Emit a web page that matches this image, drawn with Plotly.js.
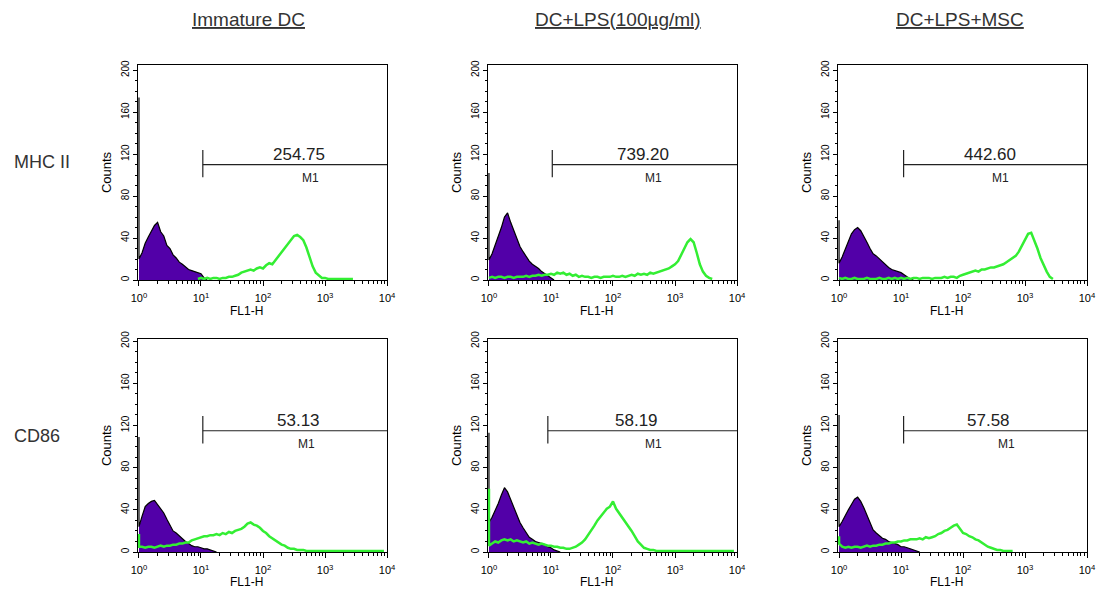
<!DOCTYPE html>
<html>
<head>
<meta charset="utf-8">
<script src="https://cdn.plot.ly/plotly-3.0.1.min.js"></script>
<style>html,body{margin:0;padding:0;background:#fff;}#chart{width:1103px;height:596px;}</style>
</head>
<body>
<div id="chart"></div>
<script>
// ---------- DATA ----------
const COLUMN_TITLES = ['Immature DC', 'DC+LPS(100\u00b5g/ml)', 'DC+LPS+MSC'];
const ROW_LABELS = ['MHC II', 'CD86'];
const X_TICK_VALUES = [1, 10, 100, 1000, 10000];
const X_TICK_LABELS = ['10<sup>0</sup>', '10<sup>1</sup>', '10<sup>2</sup>', '10<sup>3</sup>', '10<sup>4</sup>'];
const MARKER_VALUES = ['254.75', '739.20', '442.60', '53.13', '58.19', '57.58'];
const MARKER_NAME = 'M1';
const MARKER_START = [10.7, 10.5, 11, 10.7, 8.9, 11];   // FL1-H where M1 starts
const MARKER_LEVEL = [110, 110, 110, 115, 115, 115];    // counts level of the M1 bar

// FL1-H channel positions, log10 units
const FL1_LOG = [0, 0.05, 0.1, 0.15, 0.2, 0.25, 0.3, 0.35, 0.4, 0.45, 0.5, 0.55, 0.6, 0.65, 0.7, 0.75, 0.8, 0.85, 0.9, 0.95,
  1, 1.05, 1.1, 1.15, 1.2, 1.25, 1.3, 1.35, 1.4, 1.45, 1.5, 1.55, 1.6, 1.65, 1.7, 1.75, 1.8, 1.85, 1.9, 1.95,
  2, 2.05, 2.1, 2.15, 2.2, 2.25, 2.3, 2.35, 2.4, 2.45, 2.5, 2.55, 2.6, 2.65, 2.7, 2.75, 2.8, 2.85, 2.9, 2.95,
  3, 3.05, 3.1, 3.15, 3.2, 3.25, 3.3, 3.35, 3.4, 3.45, 3.5, 3.55, 3.6, 3.65, 3.7, 3.75, 3.8, 3.85, 3.9, 3.95, 4];

// counts piled up in the first channel (isotype / stained)
const ISOTYPE_FIRST_CHANNEL = [174, 102, 57, 109, 113, 130];
const STAINED_FIRST_CHANNEL = [null, null, null, 17, 60, 15];

// isotype control (purple) counts
const isoMHC_iDC = [20, 26, 35, 41, 46, 52, 55, 46, 42, 33, 30, 24, 21, 17, 15, 12, 10, 9, 8, 7, 6, 2, 0];
const isoMHC_LPS = [19, 25, 33, 40, 50, 60, 64, 55, 47, 39, 32, 27, 22, 18, 15, 13, 11, 8, 6, 4, 2, 0];
const isoMHC_MSC = [16, 22, 30, 38, 44, 48, 50, 47, 42, 36, 30, 25, 23, 20, 18, 14, 12, 10, 9, 8, 7, 5, 3, 1, 0];
const isoCD86_iDC = [24, 34, 43, 46, 48, 49, 45, 41, 37, 31, 25, 20, 18, 15, 12, 10, 8, 6, 5, 5, 4, 3, 3, 2, 1, 0];
const isoCD86_LPS = [28, 33, 39, 46, 54, 61, 57, 50, 43, 36, 28, 23, 18, 14, 12, 10, 9, 8, 7, 5, 4, 2, 1, 0];
const isoCD86_MSC = [24, 29, 35, 40, 45, 50, 52, 48, 42, 35, 27, 21, 18, 15, 13, 12, 10, 9, 8, 7, 5, 5, 4, 3, 2, 1, 0];

// stained sample (green) counts
const stMHC_iDC = [null, null, null, null, null, null, null, null, null, null, null, null, null, null, null, null, null, null, null,
  1, 2, 1, 2, 1, 2, 2, 1, 2, 2,
  3, 3, 4, 5, 7, 8, 9, 10, 9, 11,
  12, 11, 14, 16, 15, 19, 23, 27, 30, 35,
  39, 42, 43, 41, 38, 31, 22, 13, 7, 4,
  2, 2, 1, 1, 1, 1, 1, 1, 1, 1, 1];
const stMHC_LPS = [2, 3, 2, 3, 3, 2, 3, 3, 2, 3,
  3, 3, 4, 3, 4, 4, 5, 4, 5, 5,
  6, 5, 7, 6, 7, 5, 6, 4, 5, 3,
  4, 3, 3, 2, 3, 3, 2, 3, 3, 3,
  4, 3, 3, 4, 3, 4, 5, 4, 6, 5,
  6, 5, 7, 6, 7, 8, 9, 10, 11, 13,
  15, 18, 24, 30, 36, 39, 36, 26, 15, 8,
  4, 2, 1];
const stMHC_MSC = [2, 1, 2, 1, 1, 2, 1, 1, 1, 2,
  1, 1, 1, 2, 1, 1, 2, 1, 2, 1,
  2, 1, 2, 1, 2, 2, 1, 2, 2, 2,
  1, 2, 2, 2, 3, 2, 3, 3, 2, 4,
  5, 6, 7, 8, 9, 8, 10, 10, 11, 12,
  12, 13, 14, 15, 17, 19, 21, 23, 27, 33,
  39, 44, 45, 38, 30, 21, 14, 8, 3, 1];
const stCD86_iDC = [5, 5, 4, 5, 5, 4, 5, 6, 5, 6,
  6, 7, 7, 8, 8, 9, 9, 11, 12, 13,
  14, 15, 15, 16, 16, 17, 16, 18, 17, 19,
  18, 20, 21, 22, 24, 27, 28, 26, 25, 23,
  20, 18, 15, 13, 11, 9, 7, 6, 4, 3,
  3, 2, 2, 2, 1, 1, 1, 1, 1, 1,
  1, 1, 1, 1, 1, 1, 1, 1, 1, 1,
  1, 1, 1, 1, 1, 1, 1, 1, 1, 1];
const stCD86_LPS = [6, 8, 10, 9, 11, 12, 11, 12, 10, 11,
  10, 9, 10, 8, 9, 8, 7, 8, 7, 6,
  6, 5, 5, 4, 4, 3, 3, 4, 5, 7,
  9, 12, 16, 20, 25, 30, 34, 38, 41, 43,
  48, 41, 37, 33, 29, 25, 20, 15, 10, 7,
  4, 3, 2, 2, 1, 1, 1, 1, 1, 1,
  1, 1, 1, 1, 1, 1, 1, 1, 1, 1,
  1, 1, 1, 1, 1, 1, 1, 1, 1, 1];
const stCD86_MSC = [8, 5, 4, 5, 4, 5, 5, 4, 5, 6,
  5, 6, 6, 7, 7, 8, 8, 9, 9, 10,
  10, 11, 11, 12, 12, 12, 13, 12, 14, 13,
  14, 15, 17, 18, 20, 21, 23, 25, 26, 22,
  18, 17, 15, 14, 12, 11, 9, 7, 5, 4,
  3, 2, 2, 1, 1, 1, 1];

const ISOTYPE = [isoMHC_iDC, isoMHC_LPS, isoMHC_MSC, isoCD86_iDC, isoCD86_LPS, isoCD86_MSC];
const STAINED = [stMHC_iDC, stMHC_LPS, stMHC_MSC, stCD86_iDC, stCD86_LPS, stCD86_MSC];

// ---------- STYLE / LAYOUT ----------
const FONT = 'Liberation Sans, Arial, Helvetica, sans-serif';
const PURPLE = '#5200a8';
const GREEN = '#33ee33';
const X_DOMAINS = [[0.1251, 0.3509], [0.4424, 0.6682], [0.7598, 0.9855]];
const Y_DOMAINS = [[0.5302, 0.8909], [0.0738, 0.4312]];
const Y_RANGES = [[0, 205], [0, 202]];
const NUM_POS = [2.58, 2.49, 2.43, 2.58, 2.38, 2.41];   // log10 x of number label centre
const M1_POS = [2.76, 2.65, 2.60, 2.70, 2.65, 2.70];
const COL_TITLE_X = [248, 618, 960];
const ROW_LABEL_Y = [162, 436];

const minorVals = [];
[1, 10, 100, 1000].forEach(d => { for (let m = 2; m <= 9; m++) minorVals.push(m * d); });

const traces = [];
const layout = {
  width: 1103, height: 596,
  margin: {l: 0, r: 0, t: 0, b: 0},
  paper_bgcolor: '#fff', plot_bgcolor: '#fff',
  showlegend: false,
  font: {family: FONT, color: '#000'},
  shapes: [], annotations: []
};

for (let k = 0; k < 6; k++) {
  const row = Math.floor(k / 3), col = k % 3;
  const id = k === 0 ? '' : String(k + 1);
  const xa = 'x' + id, ya = 'y' + id;

  const iso = ISOTYPE[k];
  const isoX = [Math.pow(10, FL1_LOG[0])].concat(iso.map((_, i) => Math.pow(10, FL1_LOG[i])));
  const isoY = [ISOTYPE_FIRST_CHANNEL[k]].concat(iso);
  traces.push({type: 'scatter', mode: 'lines', x: isoX, y: isoY, xaxis: xa, yaxis: ya,
    fill: 'tozeroy', fillcolor: PURPLE, line: {color: '#000', width: 1.2}, hoverinfo: 'skip'});

  const st = STAINED[k];
  let stX = st.map((_, i) => Math.pow(10, FL1_LOG[i]));
  let stY = st.slice();
  if (STAINED_FIRST_CHANNEL[k] !== null) {
    stX = [Math.pow(10, FL1_LOG[0])].concat(stX);
    stY = [STAINED_FIRST_CHANNEL[k]].concat(stY);
  }
  traces.push({type: 'scatter', mode: 'lines', x: stX, y: stY, xaxis: xa, yaxis: ya,
    line: {color: GREEN, width: 2.5}, connectgaps: false, hoverinfo: 'skip'});

  layout['xaxis' + id] = {
    domain: X_DOMAINS[col], anchor: ya, type: 'log', range: [-0.016, 4],
    tickmode: 'array', tickvals: X_TICK_VALUES, ticktext: X_TICK_LABELS,
    ticks: 'outside', ticklen: 5, tickcolor: '#000', tickwidth: 1, ticklabelstandoff: 3,
    minor: {tickmode: 'array', tickvals: minorVals, ticks: 'outside', ticklen: 3, tickcolor: '#000', showgrid: false},
    tickfont: {size: 11, color: '#000', family: FONT},
    showline: true, mirror: true, linecolor: '#000', linewidth: 1,
    showgrid: false, zeroline: false, fixedrange: true
  };
  layout['yaxis' + id] = {
    domain: Y_DOMAINS[row], anchor: xa, range: Y_RANGES[row],
    tick0: 0, dtick: 40, ticks: 'outside', ticklen: 4, tickcolor: '#000',
    minor: {dtick: 10, ticks: 'outside', ticklen: 2, tickcolor: '#000', showgrid: false},
    tickangle: -90, tickfont: {size: 10, color: '#000', family: FONT},
    title: {text: 'Counts', font: {size: 13, color: '#000', family: FONT}, standoff: 5},
    showline: true, mirror: true, linecolor: '#000', linewidth: 1,
    showgrid: false, zeroline: false, fixedrange: true
  };

  // M1 marker
  const lv = MARKER_LEVEL[k];
  layout.shapes.push({type: 'line', xref: xa, yref: ya, x0: MARKER_START[k], x1: X_TICK_VALUES[0] * 0 + MARKER_START[k], y0: lv - 12, y1: lv + 14, line: {color: '#222', width: 1.2}});
  layout.shapes.push({type: 'line', xref: xa, yref: ya, x0: MARKER_START[k], x1: X_TICK_VALUES[4], y0: lv, y1: lv, line: {color: '#222', width: 1.2}});
  layout.annotations.push({xref: xa, yref: ya, x: NUM_POS[k], y: lv + 9.5, text: MARKER_VALUES[k], showarrow: false,
    xanchor: 'center', yanchor: 'middle', font: {size: 17, color: '#222', family: FONT}});
  layout.annotations.push({xref: xa, yref: ya, x: M1_POS[k], y: lv - 13, text: MARKER_NAME, showarrow: false,
    xanchor: 'center', yanchor: 'middle', font: {size: 12, color: '#222', family: FONT}});
  // x-axis title
  layout.annotations.push({xref: xa + ' domain', yref: ya + ' domain', x: 0.435, y: row === 0 ? -0.142 : -0.143,
    text: 'FL1-H', showarrow: false, xanchor: 'center', yanchor: 'middle', font: {size: 12, color: '#000', family: FONT}});
}

COLUMN_TITLES.forEach((t, i) => {
  layout.annotations.push({xref: 'paper', yref: 'paper', x: COL_TITLE_X[i] / 1103, y: 1 - 19 / 596,
    text: '<u>' + t + '</u>', showarrow: false, xanchor: 'center', yanchor: 'middle',
    font: {size: 19, color: '#333', family: FONT}});
});
ROW_LABELS.forEach((t, i) => {
  layout.annotations.push({xref: 'paper', yref: 'paper', x: 12 / 1103, y: 1 - ROW_LABEL_Y[i] / 596,
    text: t, showarrow: false, xanchor: 'left', yanchor: 'middle',
    font: {size: 18, color: '#333', family: FONT}});
});

Plotly.newPlot('chart', traces, layout, {staticPlot: true, displayModeBar: false});
</script>
</body>
</html>
